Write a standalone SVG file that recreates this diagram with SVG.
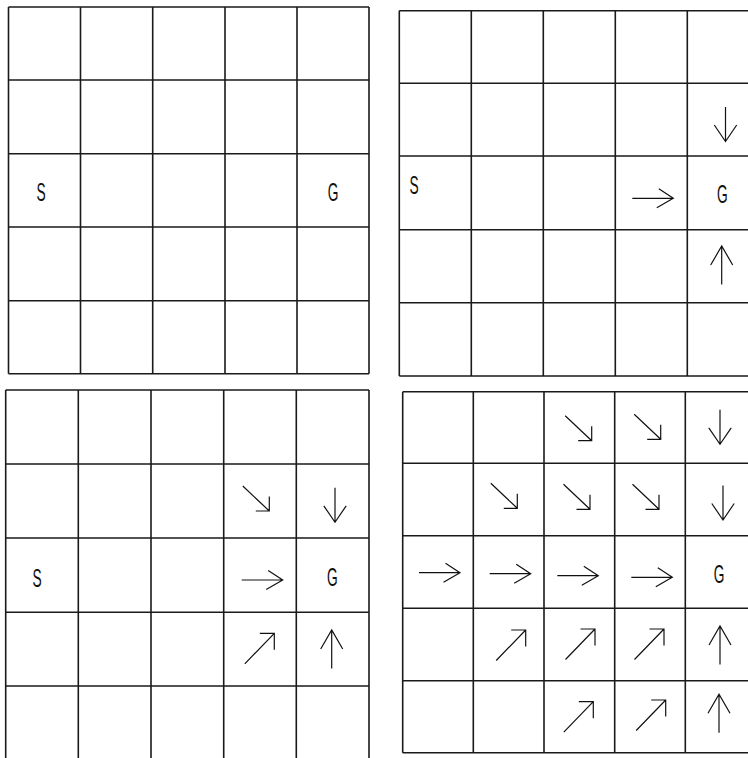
<svg xmlns="http://www.w3.org/2000/svg" xmlns:xlink="http://www.w3.org/1999/xlink" width="748" height="758" viewBox="0 0 748 758">
<style>
.grid{fill:none;stroke:#1a1a1a;stroke-width:1.6}
.arr{fill:none;stroke:#111;stroke-width:1.2;stroke-linecap:butt}
.lbl{font-family:"Liberation Sans",Arial,sans-serif;font-size:25px;fill:#111;text-anchor:middle}
</style>
<defs>
<path id="down" d="M0,-34.5V0M-11.2,-16.5L0,0L11.2,-16.5"/>
<path id="up" d="M0,0V38.5M-11,19L0,0L11,19"/>
<path id="right" d="M-41,0H0M-14.5,-9.5L0,0L-16.5,9.5"/>
<path id="dr" d="M-26.5,-25L0,0M0,-14.5V0H-13.5"/>
<path id="ur" d="M-29.5,30.5L0,0M-14.5,0H0V16.5"/>
</defs>
<rect width="748" height="758" fill="#fff"/>

<g id="panel1">
<path class="grid" d="M8.5,7V373.7M80.5,7V373.7M152.7,7V373.7M225,7V373.7M297,7V373.7M369,7V373.7M8.5,7H369M8.5,80H369M8.5,153.7H369M8.5,227H369M8.5,300.7H369M8.5,373.7H369"/>
<text class="lbl" transform="translate(41,201) scale(0.55,1)">S</text>
<text class="lbl" transform="translate(333,201) scale(0.55,1)">G</text>
</g>

<g id="panel2">
<path class="grid" d="M399.3,10.7V376M471.3,10.7V376M543.3,10.7V376M615.3,10.7V376M687.3,10.7V376M399.3,10.7H748M399.3,83.3H748M399.3,156H748M399.3,229.7H748M399.3,302.7H748M399.3,376H748"/>
<text class="lbl" transform="translate(414,194) scale(0.55,1)">S</text>
<text class="lbl" transform="translate(722.3,203.3) scale(0.55,1)">G</text>
<g class="arr">
<use href="#down" x="725.5" y="141.5"/>
<use href="#right" x="673.3" y="198.3"/>
<use href="#up" x="721.7" y="246"/>
</g>
</g>

<g id="panel3">
<path class="grid" d="M5.7,390V758M78.3,390V758M151,390V758M223.7,390V758M296.3,390V758M369,390V758M5.7,390H369M5.7,464H369M5.7,538H369M5.7,612.3H369M5.7,686H369"/>
<text class="lbl" transform="translate(37,587.3) scale(0.55,1)">S</text>
<text class="lbl" transform="translate(332.3,585.7) scale(0.55,1)">G</text>
<g class="arr">
<use href="#dr" x="269.3" y="511"/>
<use href="#down" x="335" y="522.3"/>
<use href="#right" x="282.7" y="580"/>
<use href="#ur" x="274.3" y="633.3"/>
<use href="#up" x="331.7" y="630"/>
</g>
</g>

<g id="panel4">
<path class="grid" d="M402.7,391.7V752.7M473.3,391.7V752.7M544,391.7V752.7M614.7,391.7V752.7M685.3,391.7V752.7M402.7,391.7H748M402.7,463.3H748M402.7,535.7H748M402.7,608.3H748M402.7,680.7H748M402.7,752.7H748"/>
<text class="lbl" transform="translate(719,582.7) scale(0.55,1)">G</text>
<g class="arr">
<use href="#dr" x="591.7" y="440.7"/>
<use href="#dr" x="660.7" y="439.3"/>
<use href="#down" x="720" y="444.3"/>
<use href="#dr" x="517.3" y="508.3"/>
<use href="#dr" x="590" y="509.3"/>
<use href="#dr" x="659" y="509.3"/>
<use href="#down" x="723" y="520"/>
<use href="#right" x="460" y="572.7"/>
<use href="#right" x="530.7" y="573.7"/>
<use href="#right" x="598.3" y="575.7"/>
<use href="#right" x="672.3" y="577.3"/>
<use href="#ur" x="525.7" y="630"/>
<use href="#ur" x="595" y="629"/>
<use href="#ur" x="664" y="629"/>
<use href="#up" x="720" y="626"/>
<use href="#ur" x="593.3" y="701.7"/>
<use href="#ur" x="665.7" y="700"/>
<use href="#up" x="719" y="694.3"/>
</g>
</g>
</svg>
